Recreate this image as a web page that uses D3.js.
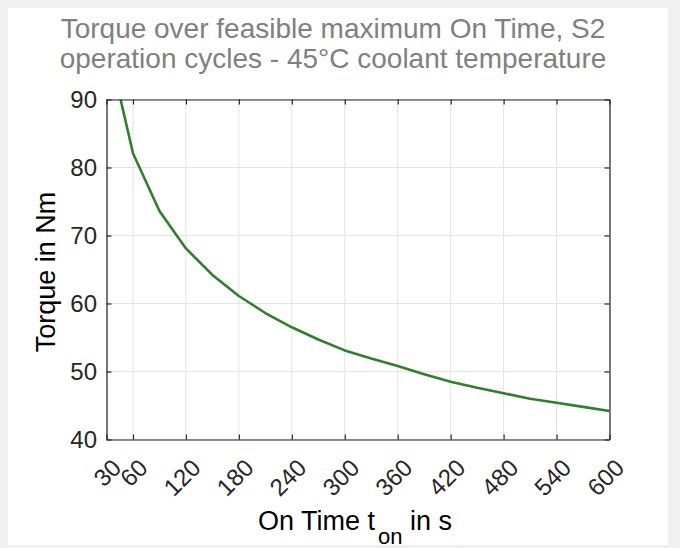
<!DOCTYPE html>
<html>
<head>
<meta charset="utf-8">
<script src="https://cdn.jsdelivr.net/npm/d3@7"></script>
<style>
  html, body { margin: 0; padding: 0; background: #f0f0f0; }
  svg { display: block; }
  text { font-family: "Liberation Sans", Arial, sans-serif; }
</style>
</head>
<body>
<div id="chart"></div>
<script>
// data
var onTime = [30, 60, 90, 120, 150, 180, 210, 240, 270, 300, 330, 360, 390, 420, 450, 480, 510, 540, 570, 600];
var torque = [99.0, 82.1, 73.6, 68.1, 64.2, 61.1, 58.6, 56.5, 54.7, 53.1, 51.9, 50.8, 49.6, 48.5, 47.6, 46.8, 46.0, 45.4, 44.8, 44.2];
var xTicks = [30, 60, 120, 180, 240, 300, 360, 420, 480, 540, 600];
var yTicks = [40, 50, 60, 70, 80, 90];
var titleLines = ["Torque over feasible maximum On Time, S2", "operation cycles - 45\u00B0C coolant temperature"];

var width = 680, height = 548;
var plotLeft = 106.5, plotRight = 609.5, plotTop = 99.5, plotBottom = 439.5;
var axisColor = "#262626";

var svg = d3.select("#chart").append("svg").attr("width", width).attr("height", height);

// white figure panel
svg.append("rect").attr("x", 8).attr("y", 8).attr("width", 660).attr("height", 537).attr("fill", "#ffffff");

var x = d3.scaleLinear().domain([30, 600]).range([plotLeft, plotRight]);
var y = d3.scaleLinear().domain([40, 90]).range([plotBottom, plotTop]);

// grid
svg.append("g").selectAll("line").data(xTicks).enter().append("line")
    .attr("x1", function (d) { return x(d); }).attr("x2", function (d) { return x(d); })
    .attr("y1", plotTop).attr("y2", plotBottom)
    .attr("stroke", "#e3e3e3").attr("stroke-width", 1);
svg.append("g").selectAll("line").data(yTicks).enter().append("line")
    .attr("y1", function (d) { return y(d); }).attr("y2", function (d) { return y(d); })
    .attr("x1", plotLeft).attr("x2", plotRight)
    .attr("stroke", "#e3e3e3").attr("stroke-width", 1);

// curve, clipped to the axes box
svg.append("clipPath").attr("id", "plotClip").append("rect")
    .attr("x", plotLeft).attr("y", plotTop).attr("width", plotRight - plotLeft).attr("height", plotBottom - plotTop);

var line = d3.line()
    .x(function (d, i) { return x(onTime[i]); })
    .y(function (d) { return y(d); });

svg.append("path").datum(torque)
    .attr("clip-path", "url(#plotClip)")
    .attr("d", line)
    .attr("fill", "none")
    .attr("stroke", "#2f7f2f")
    .attr("stroke-width", 2.6)
    .attr("stroke-linejoin", "round");

// axes: inward ticks on all four sides
var tickLen = 5;
var xAxisBottom = d3.axisBottom(x).tickValues(xTicks).tickSize(-tickLen).tickSizeOuter(0).tickFormat("");
var xAxisTop = d3.axisTop(x).tickValues(xTicks).tickSize(-tickLen).tickSizeOuter(0).tickFormat("");
var yAxisLeft = d3.axisLeft(y).tickValues(yTicks).tickSize(-tickLen).tickSizeOuter(0).tickFormat("");
var yAxisRight = d3.axisRight(y).tickValues(yTicks).tickSize(-tickLen).tickSizeOuter(0).tickFormat("");

function styleAxis(g) {
    g.selectAll("path").attr("stroke", axisColor).attr("stroke-width", 1.2);
    g.selectAll("line").attr("stroke", axisColor).attr("stroke-width", 1.2);
    return g;
}

svg.append("g").attr("transform", "translate(0," + plotBottom + ")").call(xAxisBottom).call(styleAxis);
svg.append("g").attr("transform", "translate(0," + plotTop + ")").call(xAxisTop).call(styleAxis);
svg.append("g").attr("transform", "translate(" + plotLeft + ",0)").call(yAxisLeft).call(styleAxis);
svg.append("g").attr("transform", "translate(" + plotRight + ",0)").call(yAxisRight).call(styleAxis);

// tick labels
svg.append("g").selectAll("text").data(yTicks).enter().append("text")
    .attr("x", plotLeft - 9.5).attr("y", function (d) { return y(d); })
    .attr("dy", "0.37em")
    .attr("text-anchor", "end")
    .attr("font-size", 24)
    .attr("fill", axisColor)
    .text(function (d) { return d; });

svg.append("g").selectAll("text").data(xTicks).enter().append("text")
    .attr("transform", function (d) { return "translate(" + (x(d) + 3.5) + "," + (plotBottom + 17) + ") rotate(-45)"; })
    .attr("dy", "0.75em")
    .attr("text-anchor", "end")
    .attr("font-size", 24)
    .attr("fill", axisColor)
    .text(function (d) { return d; });

// axis labels
svg.append("text")
    .attr("transform", "translate(55,272) rotate(-90)")
    .attr("text-anchor", "middle")
    .attr("font-size", 27)
    .attr("fill", "#000")
    .text("Torque in Nm");

var xl = svg.append("text")
    .attr("x", 258).attr("y", 530)
    .attr("font-size", 27)
    .attr("fill", "#000");
xl.append("tspan").text("On Time t");
xl.append("tspan").attr("dx", 3).attr("dy", 14).attr("font-size", 22).text("on");
xl.append("tspan").attr("dy", -14).text(" in s");

// title
svg.append("g").selectAll("text").data(titleLines).enter().append("text")
    .attr("x", 333).attr("y", function (d, i) { return 38 + i * 30; })
    .attr("text-anchor", "middle")
    .attr("font-size", 28)
    .attr("fill", "#808080")
    .text(function (d) { return d; });
</script>
</body>
</html>
